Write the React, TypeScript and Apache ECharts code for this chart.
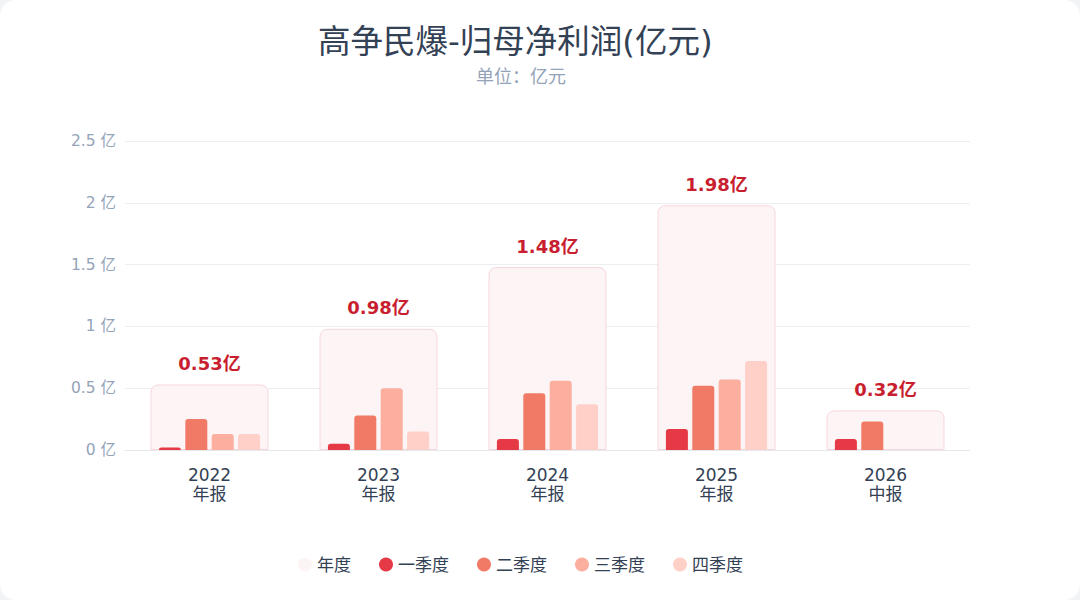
import React, { useEffect, useRef } from "react";
import * as echarts from "echarts";

const categories = ["2022\n年报", "2023\n年报", "2024\n年报", "2025\n年报", "2026\n中报"];
const annual = [0.53, 0.98, 1.48, 1.98, 0.32];
const q1 = [0.02, 0.05, 0.09, 0.17, 0.09];
const q2 = [0.25, 0.28, 0.46, 0.52, 0.23];
const q3 = [0.13, 0.5, 0.56, 0.57, null];
const q4 = [0.13, 0.15, 0.37, 0.72, null];
const yTicks = [0, 0.5, 1, 1.5, 2, 2.5];

const quarterNames = ["一季度", "二季度", "三季度", "四季度"];
const quarterColors = ["#e63946", "#f07a66", "#fcae9f", "#fed0c7"];

export default function App() {
  const ref = useRef<HTMLDivElement>(null);
  useEffect(() => {
    document.body.style.margin = "0";
    document.body.style.background = "#f3f4f6";
    const chart = echarts.init(ref.current!, null, { renderer: "svg" });
    const font = "'DejaVu Sans', 'Noto Sans CJK SC', sans-serif";
    const quarterSeries = [q1, q2, q3, q4].map((d, i) => ({
      name: quarterNames[i],
      type: "bar",
      xAxisIndex: 1,
      data: d,
      barWidth: 22,
      barGap: "20%",
      itemStyle: { color: quarterColors[i], borderRadius: [3, 3, 0, 0] },
      z: 3,
    }));
    chart.setOption({
      animation: false,
      backgroundColor: "transparent",
      textStyle: { fontFamily: font },
      title: [
        {
          text: "高争民爆-归母净利润(亿元)",
          left: 313,
          top: 21,
          textStyle: { fontSize: 32.5, fontWeight: "normal", color: "#334155", fontFamily: font },
        },
        {
          text: "单位：亿元",
          left: 471,
          top: 62,
          textStyle: { fontSize: 18, fontWeight: "normal", color: "#94a3b8", fontFamily: font },
        },
      ],
      legend: {
        bottom: 22,
        left: 293,
        icon: "circle",
        itemWidth: 14,
        itemHeight: 14,
        itemGap: 28,
        textStyle: { fontSize: 17, color: "#334155", fontFamily: font },
        data: [{ name: "年度", itemStyle: { borderWidth: 0 } }, ...quarterNames],
      },
      grid: { left: 125, right: 110, top: 141, bottom: 150 },
      xAxis: [
        {
          type: "category",
          data: categories,
          axisTick: { show: false },
          axisLine: { lineStyle: { color: "#e5e7eb" } },
          axisLabel: { fontSize: 17, color: "#334155", lineHeight: 19, margin: 15, fontFamily: font },
        },
        {
          type: "category",
          data: categories,
          show: false,
        },
      ],
      yAxis: {
        type: "value",
        min: 0,
        max: 2.5,
        interval: 0.5,
        axisLine: { show: false },
        axisTick: { show: false },
        splitLine: { lineStyle: { color: "#eeeef0" } },
        axisLabel: {
          fontSize: 15.5,
          color: "#94a3b8",
          margin: 9,
          fontFamily: font,
          formatter: (v: number) => (yTicks.includes(v) ? `${v} 亿` : ""),
        },
      },
      series: [
        {
          name: "年度",
          type: "bar",
          xAxisIndex: 0,
          data: annual,
          barWidth: 118,
          z: 1,
          itemStyle: {
            color: "#fcf4f5",
            borderColor: "#f6d7dc",
            borderWidth: 1,
            borderRadius: [7, 7, 0, 0],
          },
          label: {
            show: true,
            position: "top",
            distance: 12,
            formatter: (p: any) => `${p.value}亿`,
            fontSize: 18,
            fontWeight: "bold",
            color: "#c81e2f",
            fontFamily: font,
          },
        },
        ...quarterSeries,
      ],
    });
    return () => chart.dispose();
  }, []);
  return (
    <div
      ref={ref}
      style={{ width: 1080, height: 600, background: "#ffffff", borderRadius: 16, overflow: "hidden" }}
    />
  );
}
